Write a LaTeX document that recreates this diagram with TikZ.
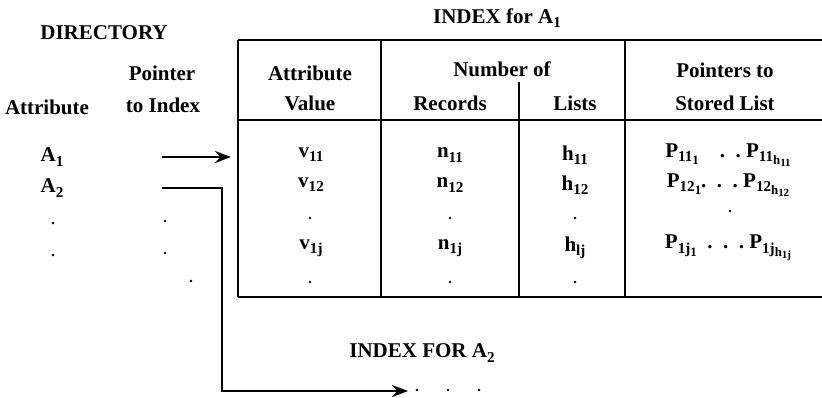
\documentclass[tikz,border=0pt]{standalone}
\usepackage{fontspec}
\setmainfont{Liberation Serif}
\usetikzlibrary{arrows.meta, positioning}
\newcommand{\idx}[1]{\raisebox{-0.45ex}{\scalebox{0.72}{#1}}}
\newcommand{\idy}[1]{\raisebox{-0.4ex}{\scalebox{0.85}{#1}}}

\begin{document}
\begin{tikzpicture}[x=1pt, y=-1pt,
  every node/.style={font=\fontsize{21}{24}\selectfont\bfseries, inner sep=1pt},
  rule/.style={line width=1.6pt},
  ptr/.style={line width=1.8pt, -{Stealth[length=16pt, width=12pt]}},
  vdot/.style={circle, fill, inner sep=0pt, minimum size=2.8pt},
]
\useasboundingbox (0,0) rectangle (822,398);
% titles
\node (idxA) at (497,18) {INDEX for A\idx{1}};
\node (dir) at (104,33) {DIRECTORY};
\node (idxB) at (422,353) {INDEX FOR A\idx{2}};
% directory
\node (dptr) at (162,73) {Pointer};
\node (dto) at (163,105) {to Index};
\node (dattr) at (47,107) {Attribute};
\node (a1) at (52,157) {A\idx{1}};
\node (a2) at (52,188) {A\idx{2}};
\node[vdot] (ad1) at (53,223) {};
\node[vdot] (ad2) at (53,255) {};
\node[vdot] (pd1) at (165,221) {};
\node[vdot] (pd2) at (165,253) {};
\node[vdot] (pd3) at (191,281) {};
% table frame
\draw[rule] (238,40) -- (822,40);
\draw[rule] (238,120) -- (822,120);
\draw[rule] (238,297) -- (822,297);
\draw[rule] (238,40) -- (238,297);
\draw[rule] (381,40) -- (381,297);
\draw[rule] (519,82) -- (519,297);
\draw[rule] (625,40) -- (625,297);
% header
\node (hattr) at (310,73) {Attribute};
\node (hval) at (310,103) {Value};
\node (hnum) at (502,69) {Number of};
\node (hrec) at (450,103) {Records};
\node (hlist) at (575,103) {Lists};
\node (hptr) at (725,70) {Pointers to};
\node (hsto) at (725,103) {Stored List};
% rows
\node (v1) at (311,155) {v\idx{11}};
\node (v2) at (311,185) {v\idx{12}};
\node[vdot] (v3) at (310,218) {};
\node (v4) at (311,248) {v\idx{1j}};
\node[vdot] (v5) at (310,282) {};
\node (n1) at (450,155) {n\idx{11}};
\node (n2) at (450,185) {n\idx{12}};
\node[vdot] (n3) at (450,218) {};
\node (n4) at (450,248) {n\idx{1j}};
\node[vdot] (n5) at (450,282) {};
\node (h1) at (575,155) {h\idx{11}};
\node (h2) at (575,185) {h\idx{12}};
\node[vdot] (h3) at (575,218) {};
\node (h4) at (575,248) {h\idx{lj}};
\node[vdot] (h5) at (575,282) {};
\node (p1) at (728,155) {P\idx{11\idy{1}}\quad.\ \ .\ P\idx{11\idy{h\idy{11}}}};
\node (p2) at (728,185) {P\idx{12\idy{1}}.\ \ .\ \ .\ P\idx{12\idy{h\idy{12}}}};
\node[vdot] (p3) at (730,211) {};
\node (p4) at (728,248) {P\idx{1j\idy{1}}\ \ .\ \ .\ \ .\ P\idx{1j\idy{h\idy{1j}}}};
% pointers
\coordinate (s1) at (162,157);
\coordinate (t1) at (231,157);
\coordinate (s2) at (162,188);
\coordinate (t2) at (408,391);
\draw[ptr] (s1) -- (t1);
\draw[ptr] (s2) -| (222,391) -- (t2);
\node[vdot] (q1) at (417,390) {};
\node[vdot] (q2) at (448,390) {};
\node[vdot] (q3) at (479,390) {};
\end{tikzpicture}
\end{document}
